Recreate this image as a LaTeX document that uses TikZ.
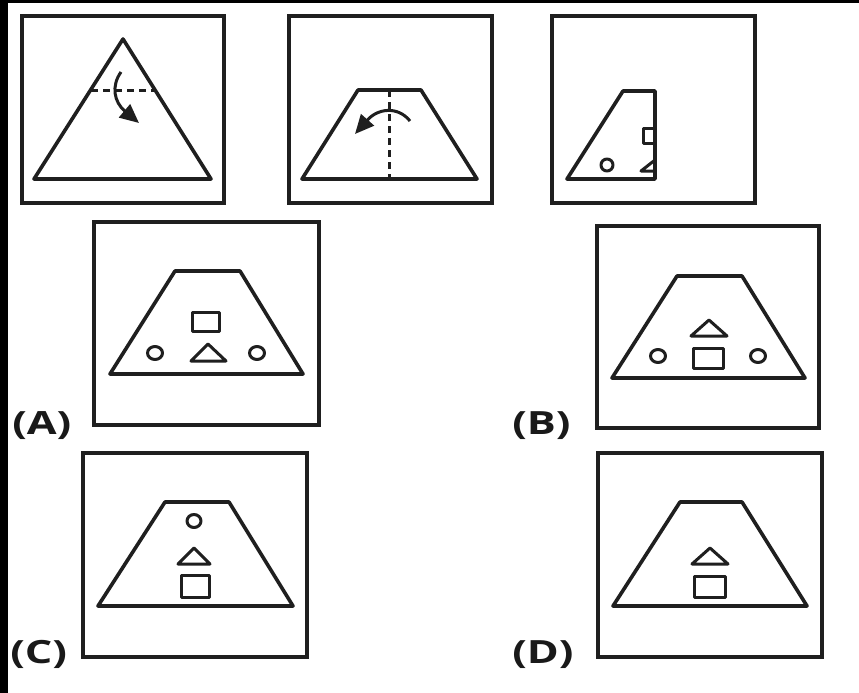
\documentclass[tikz,border=0pt]{standalone}
\usepackage{fontspec}
\newfontfamily\labfont{Open Sans}
\usetikzlibrary{arrows.meta}
\begin{document}
\begin{tikzpicture}[x=1pt,y=-1pt,
  frame/.style={draw=black!88, line width=4pt},
  outline/.style={draw=black!88, line width=3.6pt, line join=round},
  small/.style={draw=black!88, line width=3pt, line join=round},
  fold/.style={draw=black!88, line width=3pt, dash pattern=on 7pt off 5pt},
  turn/.style={draw=black!88, line width=3pt, -{Triangle[length=19pt,width=17pt]}},
  optlabel/.style={font=\labfont\bfseries\fontsize{32}{36}\selectfont, text=black!90, inner sep=0pt, anchor=west, xscale=1.35, transform shape}
]
\useasboundingbox (0,0) rectangle (859,693);
\fill[white] (0,0) rectangle (859,693);
\fill[black] (0,0) rectangle (859,3);
\fill[black] (0,0) rectangle (8,693);

% ---- top row: question figures ----
% figure 1
\draw[frame] (22,16) rectangle (224,203);
\draw[outline] (123,39) -- (211,179) -- (34,179) -- cycle;
\draw[fold] (91,90) -- (155,90);
\draw[turn] (121,72) .. controls (111,86) and (114,102) .. (139,123);

% figure 2
\draw[frame] (289,16) rectangle (492,203);
\draw[outline] (358,90) -- (421,90) -- (477,179) -- (302,179) -- cycle;
\draw[fold] (389,90) -- (389,179);
\draw[turn] (410,121) .. controls (398,106) and (378,108) .. (355,134);

% figure 3
\draw[frame] (552,16) rectangle (755,203);
\draw[outline] (623,91) -- (655,91) -- (655,179) -- (567,179) -- cycle;
\draw[small] (643,128) rectangle (655,143);
\draw[small] (607,165) circle (6);
\draw[small] (641,171) -- (655,160) -- (655,171) -- cycle;

% ---- option A ----
\draw[frame] (94,222) rectangle (319,425);
\draw[outline] (175,271) -- (240,271) -- (303,374) -- (110,374) -- cycle;
\draw[small] (192,312) rectangle (219,331);
\draw[small] (191,361) -- (208,344) -- (226,361) -- cycle;
\draw[small] (155,353) ellipse (7.5 and 6.5);
\draw[small] (257,353) ellipse (7.5 and 6.5);
\node[optlabel] (la) at (12,426) {(A)};

% ---- option B ----
\draw[frame] (597,226) rectangle (819,428);
\draw[outline] (677,276) -- (742,276) -- (805,378) -- (612,378) -- cycle;
\draw[small] (691,336) -- (709,320) -- (727,336) -- cycle;
\draw[small] (693,348) rectangle (723,368);
\draw[small] (658,356) ellipse (7.5 and 6.5);
\draw[small] (758,356) ellipse (7.5 and 6.5);
\node[optlabel] (lb) at (512,426) {(B)};

% ---- option C ----
\draw[frame] (83,453) rectangle (307,657);
\draw[outline] (165,502) -- (229,502) -- (293,606) -- (98,606) -- cycle;
\draw[small] (194,521) ellipse (7 and 6.5);
\draw[small] (178,564) -- (194,548) -- (210,564) -- cycle;
\draw[small] (181,575) rectangle (209,597);
\node[optlabel] (lc) at (10,654) {(C)};

% ---- option D ----
\draw[frame] (598,453) rectangle (822,657);
\draw[outline] (680,502) -- (742,502) -- (807,606) -- (613,606) -- cycle;
\draw[small] (692,564) -- (710,548) -- (728,564) -- cycle;
\draw[small] (694,576) rectangle (725,597);
\node[optlabel] (ld) at (512,655) {(D)};
\end{tikzpicture}
\end{document}
